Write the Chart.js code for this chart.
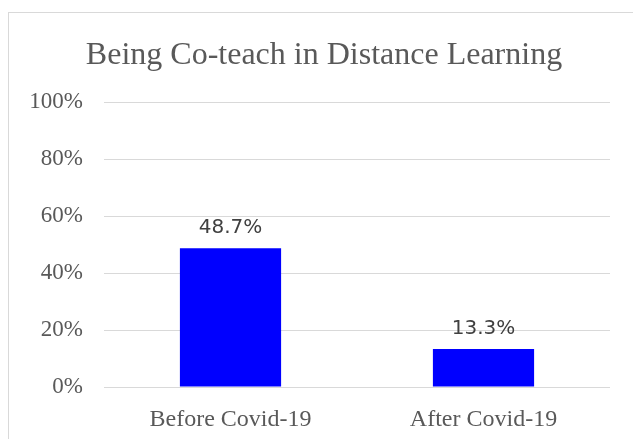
<!DOCTYPE html>
<html>
<head>
<meta charset="utf-8">
<script src="https://cdn.jsdelivr.net/npm/chart.js@4"></script>
<style>
  html, body { margin: 0; padding: 0; background: #fff; }
  #wrap { width: 633px; height: 439px; }
</style>
</head>
<body>
<div id="wrap"><canvas id="coteachChart" width="633" height="439"></canvas></div>
<script>
// Data
const categories = ['Before Covid-19', 'After Covid-19'];
const shareValues = [48.7, 13.3];
const chartTitle = 'Being Co-teach in Distance Learning';

const textGray = '#595959';
const gridGray = '#d9d9d9';
const serif = '"Liberation Serif", "Times New Roman", serif';

// Outer frame + title, drawn like the spreadsheet chart box
const framePlugin = {
    id: 'frame',
    beforeDraw(chart) {
        const ctx = chart.ctx;
        ctx.save();
        ctx.fillStyle = '#ffffff';
        ctx.fillRect(0, 0, chart.width, chart.height);
        ctx.strokeStyle = gridGray;
        ctx.lineWidth = 1;
        ctx.strokeRect(8.5, 12.5, chart.width + 10, chart.height + 10);
        ctx.fillStyle = textGray;
        ctx.font = '32px ' + serif;
        ctx.textAlign = 'center';
        ctx.textBaseline = 'alphabetic';
        ctx.fillText(chartTitle, 324, 64);
        ctx.restore();
    }
};

// Value labels above each bar
const valueLabelPlugin = {
    id: 'valueLabels',
    afterDatasetsDraw(chart) {
        const ctx = chart.ctx;
        const meta = chart.getDatasetMeta(0);
        ctx.save();
        ctx.fillStyle = '#404040';
        ctx.font = '20px "DejaVu Sans", sans-serif';
        ctx.textAlign = 'center';
        ctx.textBaseline = 'alphabetic';
        meta.data.forEach((bar, i) => {
            ctx.fillText(shareValues[i].toFixed(1) + '%', bar.x, bar.y - 15);
        });
        ctx.restore();
    }
};

const ctx = document.getElementById('coteachChart').getContext('2d');
new Chart(ctx, {
    type: 'bar',
    data: {
        labels: categories,
        datasets: [{
            data: shareValues,
            backgroundColor: '#0000ff',
            borderWidth: 0,
            barPercentage: 0.4,
            categoryPercentage: 1.0
        }]
    },
    options: {
        responsive: false,
        animation: false,
        layout: {
            padding: { left: 9, right: 23, top: 102, bottom: 0 }
        },
        plugins: {
            legend: { display: false },
            title: { display: false },
            tooltip: { enabled: false }
        },
        scales: {
            x: {
                grid: { display: false },
                border: { display: false },
                ticks: {
                    color: textGray,
                    font: { family: serif, size: 24 },
                    padding: 10
                },
                afterFit(scale) { scale.height = 52; }
            },
            y: {
                min: 0,
                max: 100,
                grid: { color: gridGray, lineWidth: 1, drawTicks: false },
                border: { display: false },
                ticks: {
                    stepSize: 20,
                    color: textGray,
                    padding: 21,
                    font: { family: serif, size: 23 },
                    callback: v => v + '%'
                },
                afterFit(scale) { scale.width = 95; }
            }
        }
    },
    plugins: [framePlugin, valueLabelPlugin]
});
</script>
</body>
</html>
